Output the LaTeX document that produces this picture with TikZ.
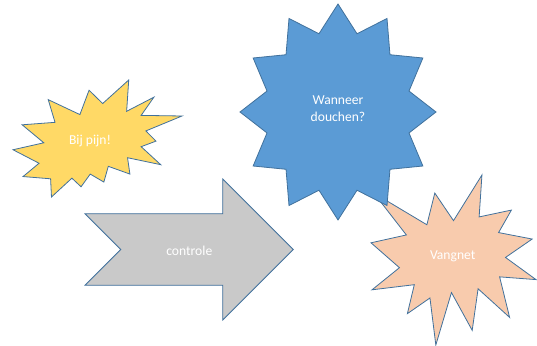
\documentclass[tikz,border=0pt]{standalone}
\usepackage{fontspec}
\setmainfont{Carlito}
\definecolor{sealyellow}{HTML}{FFD966}
\definecolor{arrowgray}{HTML}{C9C9C9}
\definecolor{starblue}{HTML}{5B9BD5}
\definecolor{sealorange}{HTML}{F8CBAD}
\definecolor{edgeblue}{HTML}{41719C}
\tikzset{
  shapefill/.style={draw=edgeblue, line width=0.8pt, line join=miter, fill=#1},
  label/.style={text=white, font=\fontsize{13.6}{17.3}\selectfont, align=center, inner sep=0pt}
}
\begin{document}
\begin{tikzpicture}[x=1pt,y=-1pt]
\useasboundingbox (0,0) rectangle (537,345);
% yellow explosion (irregular seal 2)
\begin{scope}[shift={(13,80)}, xscale=169/216, yscale=117/216]
\draw[shapefill=sealyellow] (114.62,43.42) -- (147.90,0) -- (145.25,57.77) -- (180.07,31.72) -- (163.80,65.32) -- (216,66.45) -- (169.85,94.02) -- (182.70,112.90) -- (163.80,123.10) -- (188.77,156.32) -- (146.40,143.50) -- (149.42,173.70) -- (121.80,159.35) -- (116.12,188.42) -- (98.72,173.70) -- (87.00,197.12) -- (75.27,181.25) -- (49.17,216) -- (48.05,182.40) -- (12.85,178.25) -- (33.30,153.70) -- (0,128.77) -- (39.35,115.92) -- (11.72,82.70) -- (53.72,78.17) -- (45.02,36.25) -- (85.50,63.82) -- (97.22,18.87) -- cycle;
\end{scope}
\node[label] (pijn) at (90,141) {Bij pijn!};
% notched arrow
\draw[shapefill=arrowgray] (85,213.7) -- (222.7,213.7) -- (222.7,179) -- (293.3,249.5) -- (222.7,320) -- (222.7,285.3) -- (85,285.3) -- (120.7,249.5) -- cycle;
\node[label] (controle) at (189.3,250.5) {controle};
% orange explosion (irregular seal 1)
\begin{scope}[shift={(371,175)}, xscale=165/216, yscale=170/216]
\draw[shapefill=sealorange] (108.00,58.00) -- (145.22,0) -- (141.55,53.25) -- (183.80,44.57) -- (167.02,73.15) -- (210.97,81.37) -- (176.07,104.75) -- (216,132.90) -- (168.37,129.42) -- (181.45,180.95) -- (140.20,144.57) -- (132.47,197.37) -- (105.32,149.35) -- (84.85,216) -- (77.15,156.27) -- (47.62,176.17) -- (56.67,139.37) -- (1.35,145.87) -- (37.22,117.75) -- (0,86.15) -- (46.27,76.17) -- (3.70,22.95) -- (73.12,63.20) -- (83.52,22.95) -- cycle;
\end{scope}
\node[label] (vangnet) at (452.7,256) {Vangnet};
% blue 12-point star
\draw[shapefill=starblue] (338,4)
  \foreach \a in {0,30,...,300} {
    -- ({338+73.5*sin(\a+15)}, {112-81*cos(\a+15)})
    -- ({338+98*sin(\a+30)}, {112-108*cos(\a+30)})
  } -- ({338+73.5*sin(345)}, {112-81*cos(345)}) -- cycle;
\node[label] (douchen) at (338,109) {Wanneer\\douchen?};
\end{tikzpicture}
\end{document}
